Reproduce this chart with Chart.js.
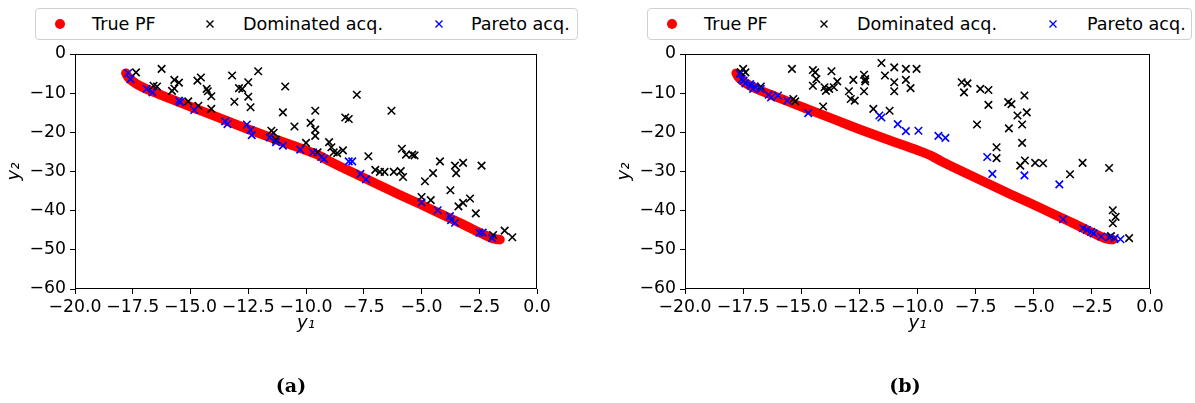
<!DOCTYPE html>
<html><head><meta charset="utf-8">
<script src="https://cdn.jsdelivr.net/npm/chart.js@4.4.1/dist/chart.umd.min.js"></script>
<style>
html,body{margin:0;padding:0;background:#fff;}
body{width:1195px;height:403px;overflow:hidden;position:relative;font-family:"DejaVu Sans",sans-serif;}
.cv{position:absolute;top:0;}
.legend{position:absolute;top:8px;height:32px;border:1px solid #d0d0d0;border-radius:4px;box-sizing:border-box;background:#fff;}
.lt{position:absolute;top:14px;font-size:17.6px;line-height:20px;color:#000;white-space:nowrap;}
.dot{position:absolute;width:10px;height:10px;border-radius:50%;background:#ff0000;}
.xm{position:absolute;width:10px;height:10px;}
.cap{position:absolute;top:374px;width:100px;text-align:center;font-family:"DejaVu Serif",serif;font-weight:bold;font-size:19px;line-height:22px;color:#000;}
</style>
</head>
<body>
<canvas id="cA" class="cv" width="600" height="403" style="left:0px"></canvas>
<canvas id="cB" class="cv" width="585" height="403" style="left:610px"></canvas>

<div class="legend" style="left:35px;width:543px"></div>
<div class="dot" style="left:55px;top:19px"></div>
<div class="lt" style="left:92px">True PF</div>
<svg class="xm" style="left:205px;top:19px" viewBox="0 0 10 10"><path d="M1.5 1.5L8.5 8.5M8.5 1.5L1.5 8.5" stroke="#000" stroke-width="1.4"/></svg>
<div class="lt" style="left:243px">Dominated acq.</div>
<svg class="xm" style="left:434px;top:19px" viewBox="0 0 10 10"><path d="M1.5 1.5L8.5 8.5M8.5 1.5L1.5 8.5" stroke="#0000ff" stroke-width="1.4"/></svg>
<div class="lt" style="left:471px">Pareto acq.</div>

<div class="legend" style="left:647px;width:545px"></div>
<div class="dot" style="left:667px;top:19px"></div>
<div class="lt" style="left:704px">True PF</div>
<svg class="xm" style="left:819px;top:19px" viewBox="0 0 10 10"><path d="M1.5 1.5L8.5 8.5M8.5 1.5L1.5 8.5" stroke="#000" stroke-width="1.4"/></svg>
<div class="lt" style="left:857px">Dominated acq.</div>
<svg class="xm" style="left:1048px;top:19px" viewBox="0 0 10 10"><path d="M1.5 1.5L8.5 8.5M8.5 1.5L1.5 8.5" stroke="#0000ff" stroke-width="1.4"/></svg>
<div class="lt" style="left:1087px">Pareto acq.</div>

<div class="cap" style="left:241px">(a)</div>
<div class="cap" style="left:855px">(b)</div>

<script>
// ---- tick values ----
const xTicks = [-20, -17.5, -15, -12.5, -10, -7.5, -5, -2.5, 0];
const yTicks = [-60, -50, -40, -30, -20, -10, 0];

// ---- True Pareto front (same in both panels) ----
const pfY1 = [-17.8,-17.7,-17.5,-17.2,-16.8,-16.3,-15.8,-15.2,-14.5,-13.5,-12.5,-11.5,-10.5,-9.9,-9.4,-9.0,-8.0,-7.0,-6.0,-5.0,-4.0,-3.2,-2.7,-2.3,-2.0,-1.75,-1.6];
const pfY2 = [-4.9,-5.9,-7.0,-8.1,-9.2,-10.4,-11.6,-13.0,-14.6,-16.9,-19.2,-21.4,-23.5,-24.8,-26.0,-27.3,-30.2,-33.0,-35.8,-38.5,-41.3,-43.5,-45.0,-46.1,-46.9,-47.3,-47.4];

// ---- panel (a) ----
const domA_y1 = [-17.36,-16.25,-16.6,-16.45,-15.7,-15.5,-15.8,-15.7,-15.1,-14.7,-14.55,-14.3,-14.25,-14.1,-14.1,-14.66,-13.2,-13.1,-12.9,-12.76,-12.5,-12.5,-12.4,-12.07,-11.0,-10.9,-10.5,-9.8,-9.6,-9.6,-9.6,-7.8,-8.3,-8.15,-6.3,-11.5,-11.4,-11.3,-10.0,-9.0,-8.9,-8.8,-8.65,-8.4,-9.5,-7.3,-7.0,-6.8,-6.6,-6.2,-5.9,-5.8,-5.85,-5.67,-5.4,-5.3,-4.85,-4.5,-4.2,-3.55,-3.2,-3.5,-3.75,-3.4,-3.2,-2.9,-2.65,-2.4,-5.0,-4.6,-1.9,-1.4,-1.07];
const domA_y2 = [-4.7,-3.8,-8.1,-8.3,-6.6,-7.3,-9.4,-8.8,-12.1,-6.8,-6.0,-8.9,-9.5,-10.8,-14.0,-13.2,-5.5,-12.2,-8.7,-8.9,-7.2,-10.9,-13.6,-4.4,-14.9,-8.3,-18.5,-17.6,-14.5,-19.3,-20.9,-10.4,-16.2,-16.6,-14.5,-19.6,-20.1,-21.9,-22.7,-22.5,-23.8,-25.1,-25.3,-24.6,-25.1,-26.1,-29.6,-30.1,-30.1,-30.1,-29.9,-31.4,-24.2,-25.7,-25.7,-25.9,-32.5,-30.4,-27.4,-28.5,-27.8,-30.4,-34.8,-38.9,-38.0,-36.9,-40.7,-28.5,-36.5,-37.3,-46.2,-45.1,-46.8];
const parA_y1 = [-17.7,-17.6,-16.9,-16.65,-15.5,-15.45,-14.84,-13.5,-13.4,-12.56,-12.4,-12.35,-11.57,-11.3,-11.0,-10.25,-9.7,-9.34,-9.22,-8.15,-8.0,-7.64,-7.4,-5.0,-4.3,-3.77,-3.72,-3.55,-2.5,-2.35,-1.94];
const parA_y2 = [-4.85,-6.4,-8.9,-9.8,-11.9,-12.3,-14.3,-17.2,-17.9,-18.0,-19.4,-20.7,-21.3,-22.5,-23.4,-24.4,-25.1,-26.3,-26.8,-27.4,-27.4,-30.6,-32.0,-37.9,-39.9,-41.4,-42.4,-43.1,-45.6,-45.6,-47.0];

// ---- panel (b) ----
const domB_y1 = [-17.5,-17.4,-17.6,-16.74,-15.4,-15.34,-15.26,-14.5,-14.4,-14.5,-14.35,-14.06,-14.0,-13.94,-13.8,-13.7,-13.6,-13.45,-12.95,-12.87,-12.7,-12.76,-12.3,-12.3,-12.25,-12.25,-11.9,-11.55,-11.4,-11.0,-11.0,-11.0,-11.2,-10.5,-10.5,-10.3,-10.04,-8.1,-7.85,-8.0,-7.3,-6.95,-6.95,-7.44,-6.1,-5.96,-6.07,-5.7,-5.5,-5.4,-5.3,-5.5,-6.6,-6.6,-5.58,-5.38,-4.94,-4.6,-3.44,-2.9,-1.76,-1.6,-1.48,-1.6,-1.68,-0.9];
const domB_y2 = [-3.8,-4.7,-4.7,-8.3,-3.8,-11.5,-12.1,-4.1,-4.7,-8.1,-6.4,-13.4,-8.5,-9.4,-8.9,-4.4,-8.5,-7.0,-9.5,-11.5,-11.9,-6.6,-9.5,-5.3,-6.4,-7.0,-14.0,-2.3,-5.5,-3.4,-7.2,-9.5,-14.5,-3.8,-6.6,-8.7,-3.8,-7.2,-7.5,-9.8,-8.9,-9.2,-13.0,-18.0,-12.3,-12.8,-19.0,-15.7,-18.0,-10.6,-14.9,-22.7,-23.8,-26.6,-28.5,-27.2,-27.8,-27.9,-30.7,-27.8,-29.1,-39.9,-41.6,-43.2,-46.5,-47.0];
const parB_y1 = [-17.65,-17.56,-17.48,-17.4,-17.2,-17.15,-17.07,-17.0,-16.74,-16.4,-16.3,-16.0,-15.6,-14.7,-11.64,-11.55,-10.85,-10.5,-9.96,-9.1,-8.8,-7.0,-6.78,-5.4,-3.9,-3.74,-2.88,-2.72,-2.53,-2.42,-2.1,-1.76,-1.52,-1.27];
const parB_y2 = [-5.1,-6.4,-6.8,-7.5,-7.7,-8.1,-8.9,-8.3,-8.9,-10.4,-11.1,-10.6,-11.9,-15.1,-15.7,-16.2,-17.9,-19.7,-19.6,-20.9,-21.4,-26.3,-30.6,-31.0,-33.3,-42.2,-44.5,-44.9,-45.4,-45.8,-46.6,-46.8,-47.0,-47.3];

function pts(xs, ys) { return xs.map((x, i) => ({x: x, y: ys[i]})); }
function fmt(v, d) { return (v < 0 ? '\u2212' : '') + Math.abs(v).toFixed(d); }

const frame = {
  id: 'frame',
  afterDatasetsDraw(chart) {
    const a = chart.chartArea, ctx = chart.ctx;
    ctx.save();
    ctx.strokeStyle = '#000';
    ctx.lineWidth = 1;
    const l = Math.round(a.left) + 0.5, t = Math.round(a.top) + 0.5;
    const r = Math.round(a.right) - 0.5, b = Math.round(a.bottom) - 0.5;
    ctx.strokeRect(l, t, r - l, b - t);
    ctx.restore();
  }
};

const tickFont = {family: '"DejaVu Sans", sans-serif', size: 17.3};
const titleFont = {family: '"DejaVu Sans", sans-serif', size: 18, style: 'italic'};

function makeChart(id, dom, par, rightPad) {
  const cross = {pointStyle: 'crossRot', pointRadius: 5.3, pointHoverRadius: 5.3, borderWidth: 1.6, pointBorderWidth: 1.6};
  return new Chart(document.getElementById(id), {
    type: 'scatter',
    data: {datasets: [
      Object.assign({label: 'Pareto acq.', data: par, borderColor: '#0000ff', backgroundColor: '#0000ff', order: 1}, cross),
      Object.assign({label: 'Dominated acq.', data: dom, borderColor: '#000000', backgroundColor: '#000000', order: 2}, cross),
      {label: 'True PF', data: pts(pfY1, pfY2), showLine: true, borderColor: '#ff0000', backgroundColor: '#ff0000',
       borderWidth: 9.5, pointRadius: 0, pointHoverRadius: 0, borderCapStyle: 'round', borderJoinStyle: 'round', tension: 0.2, order: 3}
    ]},
    options: {
      responsive: false, animation: false, devicePixelRatio: 1, events: [],
      layout: {padding: {top: 54, left: 0, right: rightPad, bottom: 64}},
      plugins: {legend: {display: false}, tooltip: {enabled: false}},
      scales: {
        x: {
          type: 'linear', min: -20, max: 0,
          afterBuildTicks(s) { s.ticks = xTicks.map(v => ({value: v})); },
          afterFit(s) { s.height = 50; },
          ticks: {font: tickFont, color: '#000', padding: 3.5, maxRotation: 0, autoSkip: false, callback: v => fmt(v, 1)},
          grid: {drawOnChartArea: false, drawTicks: true, tickLength: 5, color: '#000', lineWidth: 1},
          border: {display: false},
          title: {display: true, text: 'y\u2081', font: titleFont, color: '#000', padding: {top: 0, bottom: 5}}
        },
        y: {
          type: 'linear', min: -60, max: 0,
          afterBuildTicks(s) { s.ticks = yTicks.map(v => ({value: v})); },
          afterFit(s) { s.width = 75; },
          ticks: {font: tickFont, color: '#000', padding: 4, autoSkip: false, callback: v => fmt(v, 0)},
          grid: {drawOnChartArea: false, drawTicks: true, tickLength: 5, color: '#000', lineWidth: 1},
          border: {display: false},
          title: {display: true, text: 'y\u2082', font: titleFont, color: '#000', padding: {top: 4, bottom: 0}}
        }
      }
    },
    plugins: [frame]
  });
}

makeChart('cA', pts(domA_y1, domA_y2), pts(parA_y1, parA_y2), 63);
makeChart('cB', pts(domB_y1, domB_y2), pts(parB_y1, parB_y2), 45);
</script>
</body></html>
